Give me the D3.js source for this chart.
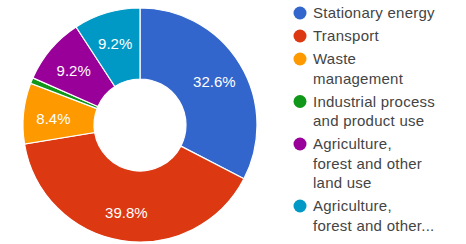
<!DOCTYPE html>
<html><head><meta charset="utf-8">
<script src="https://cdn.jsdelivr.net/npm/d3@7"></script>
<style>html,body{margin:0;padding:0;background:#fff;}svg{display:block;}</style>
</head><body>
<svg id="c" width="466" height="244"></svg>
<script>
const categories = ["Stationary energy","Transport","Waste management","Industrial process and product use","Agriculture, forest and other land use","Agriculture, forest and other..."];
const values = [32.6, 39.8, 8.4, 0.8, 9.2, 9.2];
const legendLines = [["Stationary energy"],["Transport"],["Waste","management"],["Industrial process","and product use"],["Agriculture,","forest and other","land use"],["Agriculture,","forest and other..."]];
const colors = ["#3366cc","#dc3912","#ff9900","#109618","#990099","#0099c6"];

const svg = d3.select("#c");
const cx = 140, cy = 125, R = 117, r0 = 46;
const pie = d3.pie().sort(null).value(d => d)(values);
const arc = d3.arc().innerRadius(r0).outerRadius(R);
const labelArc = d3.arc().innerRadius(87).outerRadius(87);
const g = svg.append("g").attr("transform", `translate(${cx},${cy})`);
g.selectAll("path").data(pie).join("path")
  .attr("d", arc).attr("fill", (d,i) => colors[i])
  .attr("stroke", "#fff").attr("stroke-width", 1.2);
g.selectAll("text").data(pie.filter(d => d.data >= 5)).join("text")
  .attr("transform", d => `translate(${labelArc.centroid(d)})`)
  .attr("text-anchor", "middle").attr("dy", "0.5em")
  .attr("font-family", "Arial, 'Liberation Sans', sans-serif").attr("font-size", 15)
  .attr("fill", "#fff")
  .text(d => d.data.toFixed(1) + "%");

const lg = svg.append("g");
let y = 13;
legendLines.forEach((lines, i) => {
  lg.append("circle").attr("cx", 300).attr("cy", y).attr("r", 6.5).attr("fill", colors[i]);
  lines.forEach((t, j) => {
    lg.append("text").attr("x", 313).attr("y", y + j * 19.5).attr("dy", "0.35em")
      .attr("font-family", "Arial, 'Liberation Sans', sans-serif").attr("font-size", 15)
      .attr("letter-spacing", "0.25px")
      .attr("fill", "#444").text(t);
  });
  y += lines.length * 19.5 + 3.5;
});
</script>
</body></html>
